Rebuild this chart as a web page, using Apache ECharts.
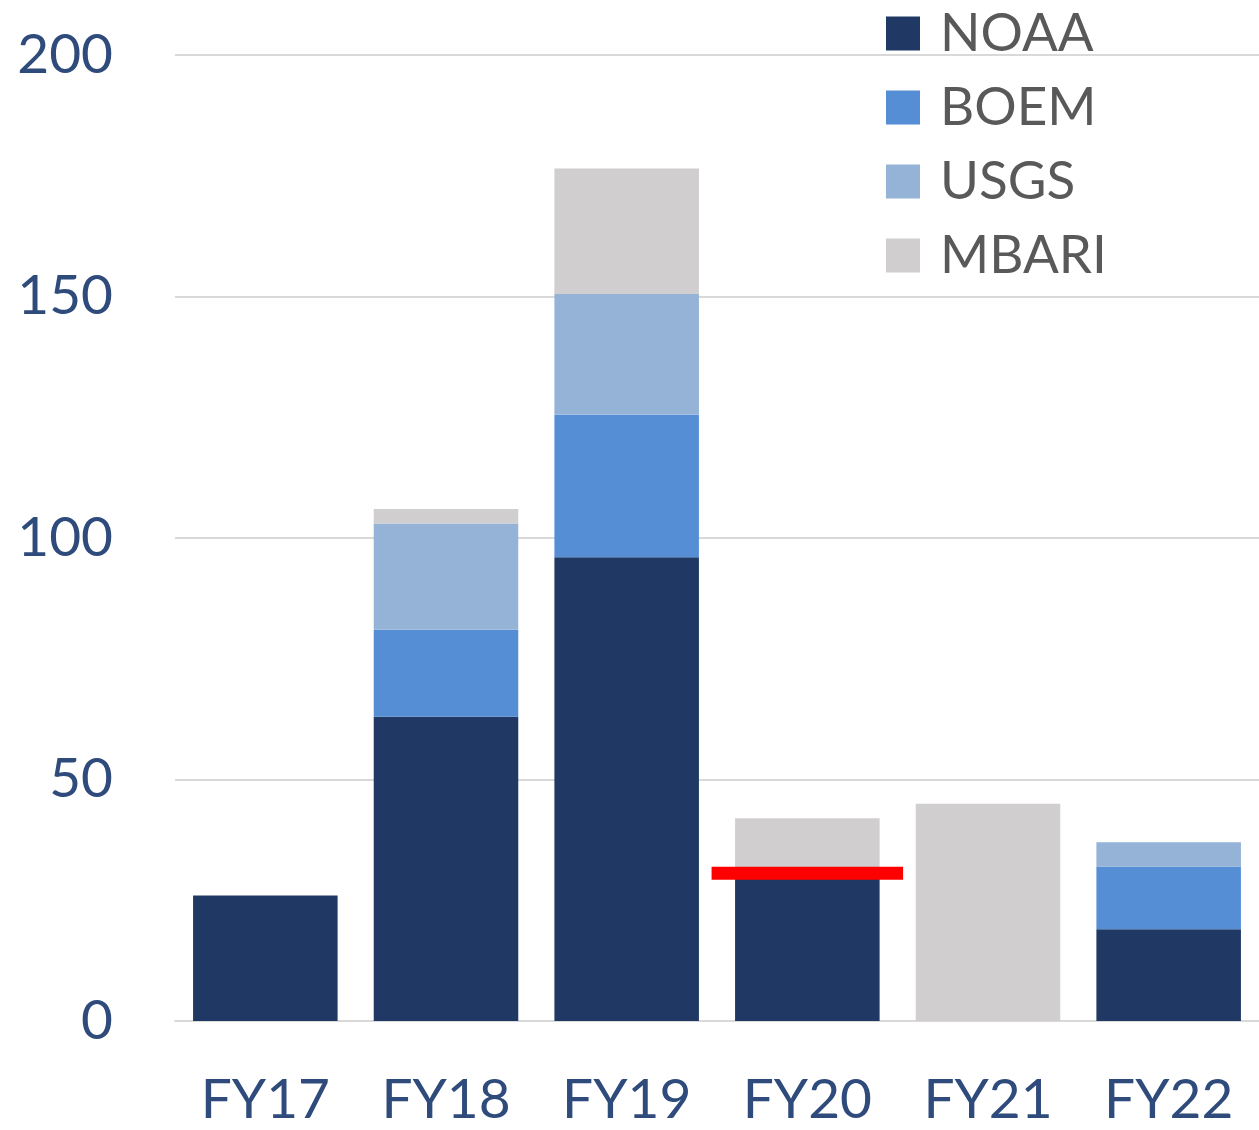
<html>
<head>
    <meta charset="utf-8">
    <title>Stacked bars by agency</title>
    <script src="https://cdn.jsdelivr.net/npm/echarts@6/dist/echarts.min.js"></script>
</head>
<body style="height: 100%; margin: 0">
<div id="container" style="width: 1259px; height: 1130px"></div>
<script>
    // data
    var years = ['FY17', 'FY18', 'FY19', 'FY20', 'FY21', 'FY22'];
    var noaa  = [26, 63, 96, 30, 0, 19];
    var boem  = [0, 18, 29.5, 0, 0, 13];
    var usgs  = [0, 22, 25, 0, 0, 5];
    var mbari = [0, 3, 26, 12, 45, 0];
    // red marker on FY20
    var marker = [['FY20', 30.6]];
    var yTicks = [0, 50, 100, 150, 200];

    var myChart = echarts.init(document.getElementById('container'));

    var font = 'Lato, "Open Sans", sans-serif';
    var labelColor = '#2e4b7b';

    function barSeries(name, data, color) {
        return {
            name: name,
            type: 'bar',
            stack: 'total',
            data: data,
            barCategoryGap: '20%',
            itemStyle: { color: color }
        };
    }

    var option = {
        backgroundColor: '#ffffff',
        animation: false,
        grid: {
            left: 175,
            width: 1088,
            top: 55,
            bottom: 109,
            containLabel: false
        },
        legend: {
            orient: 'vertical',
            left: 886,
            top: 7,
            padding: 0,
            itemWidth: 34,
            itemHeight: 34,
            itemGap: 21,
            icon: 'rect',
            data: ['NOAA', 'BOEM', 'USGS', 'MBARI'],
            textStyle: {
                color: '#595959',
                fontSize: 53,
                fontFamily: font,
                padding: [0, 0, 0, 15]
            }
        },
        xAxis: {
            type: 'category',
            data: years,
            axisTick: { show: false },
            axisLine: { show: true, lineStyle: { color: '#d9d9d9', width: 2 } },
            axisLabel: {
                color: labelColor,
                fontSize: 55,
                fontFamily: font,
                margin: 52
            }
        },
        yAxis: {
            type: 'value',
            min: yTicks[0],
            max: yTicks[yTicks.length - 1],
            interval: 50,
            axisLine: { show: false },
            axisTick: { show: false },
            splitLine: { lineStyle: { color: '#d9d9d9', width: 2 } },
            axisLabel: {
                color: labelColor,
                fontSize: 55,
                fontFamily: font,
                margin: 62
            }
        },
        series: [
            barSeries('NOAA', noaa, '#1f3864'),
            barSeries('BOEM', boem, '#558ed5'),
            barSeries('USGS', usgs, '#95b3d7'),
            barSeries('MBARI', mbari, '#d0cece'),
            {
                name: 'marker',
                type: 'custom',
                data: marker,
                z: 10,
                renderItem: function (params, api) {
                    var c = api.coord([api.value(0), api.value(1)]);
                    var band = api.size([1, 0])[0];
                    var w = band * 1.06;
                    return {
                        type: 'rect',
                        shape: { x: c[0] - w / 2, y: c[1] - 6.5, width: w, height: 13 },
                        style: { fill: '#ff0000' }
                    };
                }
            }
        ]
    };

    myChart.setOption(option, true);
</script>
</body>
</html>
